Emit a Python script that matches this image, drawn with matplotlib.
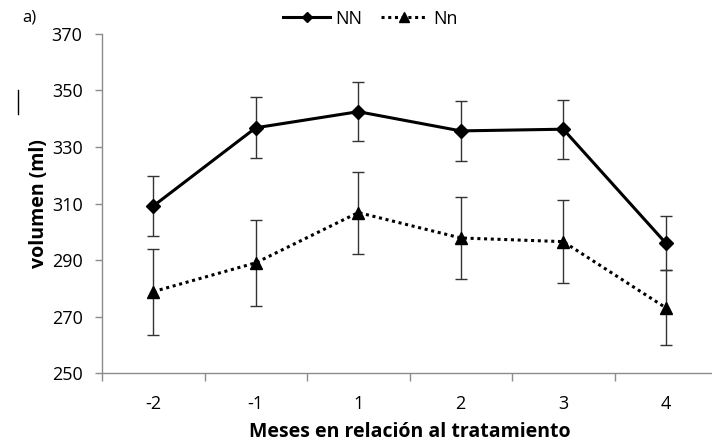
import matplotlib
matplotlib.use("Agg")
import matplotlib.pyplot as plt
import numpy as np

categories = ["-2", "-1", "1", "2", "3", "4"]
nn_values = [309.1, 336.8, 342.5, 335.7, 336.3, 296.0]
nn_err = [10.6, 10.8, 10.5, 10.6, 10.5, 9.7]
nsmall_values = [278.8, 289.0, 306.8, 297.8, 296.5, 273.1]
nsmall_err = [15.2, 15.2, 14.5, 14.6, 14.6, 13.3]
yticks = [250, 270, 290, 310, 330, 350, 370]

plt.rcParams['font.family'] = ['Open Sans', 'DejaVu Sans']

fig = plt.figure(figsize=(7.12, 4.44), dpi=100)
ax = fig.add_axes([102/712, 1-373/444, 615/712, (373-34)/444])

x = np.arange(len(categories))
gray = '#8c8c8c'
ax.errorbar(x, nn_values, yerr=nn_err, fmt='none', ecolor='#333333', elinewidth=1, capsize=4, capthick=1, zorder=2)
ax.errorbar(x, nsmall_values, yerr=nsmall_err, fmt='none', ecolor='#333333', elinewidth=1, capsize=4, capthick=1, zorder=2)
ax.plot(x, nn_values, color='black', lw=2.2, marker='D', markersize=7, label='NN', zorder=3)
ax.plot(x, nsmall_values, color='black', lw=2.2, ls=(0, (1, 1.2)), marker='^', markersize=9, label='Nn', zorder=3)

ax.set_xlim(-0.5, 5.5)
ax.set_ylim(250, 370)
ax.set_yticks(yticks)
ax.set_xticks(x)
ax.set_xticklabels(categories)
ax.set_xticks(np.arange(-0.5, 5.6, 1.0), minor=True)
ax.tick_params(axis='x', which='major', length=0, labelsize=13, pad=16, colors='black')
ax.tick_params(axis='x', which='minor', length=6, color=gray, width=1)
ax.tick_params(axis='y', which='major', length=5, color=gray, width=1, labelsize=13, pad=9)

for s in ['top', 'right']:
    ax.spines[s].set_visible(False)
for s in ['left', 'bottom']:
    ax.spines[s].set_color(gray)
    ax.spines[s].set_linewidth(1)

ax.set_ylabel('volumen (ml)', fontsize=14, fontweight='bold', labelpad=2)
ax.set_xlabel('Meses en relación al tratamiento', fontsize=14, fontweight='bold', labelpad=6)

fig.legend(loc='upper center', bbox_to_anchor=(0.52, 1.015), ncol=2, frameon=False,
           fontsize=13, handlelength=2.6, columnspacing=1.0, handletextpad=0.3, markerscale=0.8)

fig.text(22/712, 1-18/444, 'a)', fontsize=12, va='center', ha='left')
fig.add_artist(plt.Line2D([18/712, 18/712], [1-90/444, 1-114/444], color='black', lw=1))

fig.savefig('out.png', dpi=100)
